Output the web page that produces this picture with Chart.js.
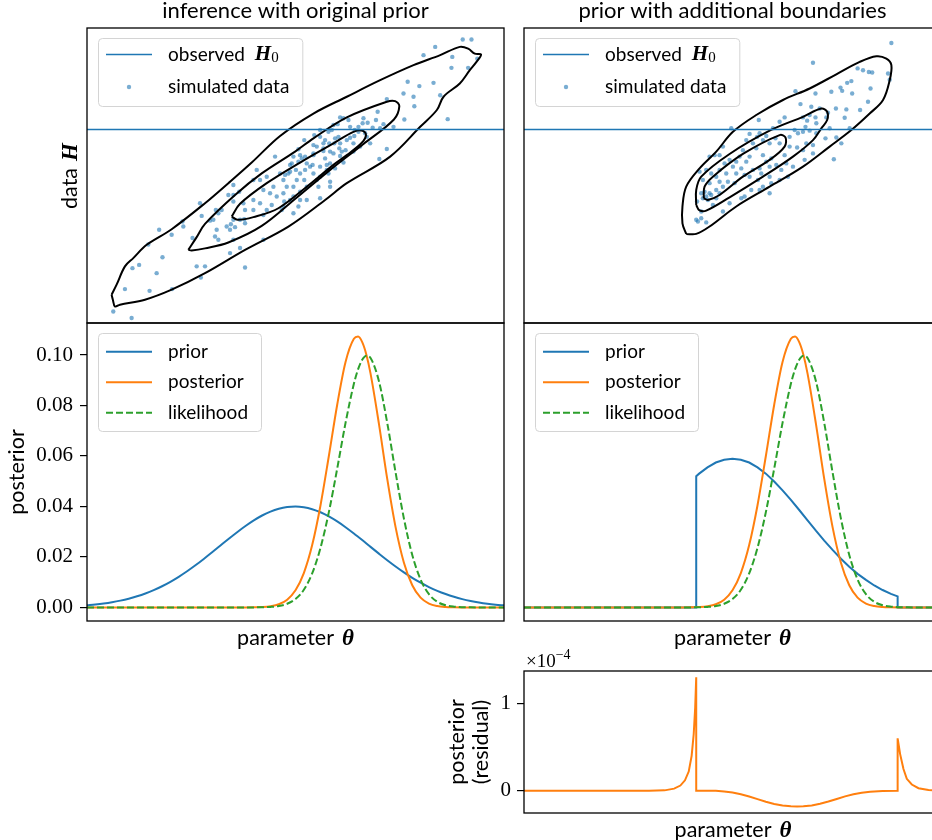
<!DOCTYPE html>
<html>
<head>
<meta charset="utf-8">
<script src="https://cdn.jsdelivr.net/npm/chart.js@4.4.1/dist/chart.umd.min.js"></script>
<style>
  html, body { margin: 0; padding: 0; background: #fff; overflow: hidden; width: 932px; height: 840px; }
  canvas { position: absolute; left: 0; top: 0; }
</style>
</head>
<body>
<canvas id="cTL" width="950" height="840"></canvas>
<canvas id="cTR" width="950" height="840"></canvas>
<canvas id="cML" width="950" height="840"></canvas>
<canvas id="cMR" width="950" height="840"></canvas>
<canvas id="cRes" width="950" height="840"></canvas>
<script>
// parameter grid (θ, arbitrary units across the axes)
const theta = [0,2,4,6,8,10,12,14,16,18,20,22,24,26,28,30,32,34,36,38,
  40,42,44,46,48,50,52,54,56,58,60,62,64,65,66,67,68,
  70,72,74,76,78,80,82,84,86,88,90,92,94,96,98,100];

// original (unbounded) prior
const priorOrig = [0.00087,0.00118,0.00157,0.00207,0.00270,0.00347,0.00441,0.00553,0.00686,0.00840,
  0.01016,0.01214,0.01432,0.01669,0.01922,0.02184,0.02453,0.02721,0.02981,0.03226,
  0.03449,0.03642,0.03798,0.03912,0.03980,0.04000,0.03970,0.03892,0.03770,0.03606,0.03407,0.03179,0.02930,0.02800,0.02668,0.02533,0.02399,
  0.02131,0.01869,0.01620,0.01387,0.01172,0.00979,0.00808,0.00658,0.00530,0.00421,0.00330,0.00256,0.00196,0.00148,0.00111,0.00082];

const posterior = [0,0,0,0,0,0,0,0,0,0,0,0,0,0,0,0,0,0,0,0,
  0.00005,0.00015,0.00046,0.00125,0.00308,0.00681,0.01363,0.0247,0.0405,0.0600,0.0803,0.0972,0.1064,0.1073,0.1051,0.1001,0.0926,
  0.0728,0.0509,0.0318,0.0177,0.00878,0.00388,0.00153,0.00054,0.00017,0.00005,0,0,0,0,0,0];

const likelihood = [0,0,0,0,0,0,0,0,0,0,0,0,0,0,0,0,0,0,0,0,
  0.00002,0.00007,0.00021,0.00057,0.00145,0.00334,0.00702,0.01349,0.02362,0.03774,0.0550,0.0731,0.0886,0.0943,0.0981,0.0997,0.0988,
  0.0897,0.0731,0.0535,0.0352,0.0208,0.01103,0.00525,0.00224,0.00086,0.0003,0.00009,0.00003,0,0,0,0];

// prior with additional boundaries
const thetaBounded = [0,41.3,41.3,42,44,46,48,50,52,54,56,58,60,62,64,66,68,70,72,74,76,78,80,82,84,86,88,89.6,89.6,100];
const priorBounded = [0,0,0.0520,0.0530,0.0555,0.0574,0.0585,0.0589,0.0585,0.0574,0.0555,0.0530,0.0499,0.0464,0.0426,
  0.0386,0.0345,0.0304,0.0265,0.0228,0.0193,0.0161,0.0133,0.0109,0.0087,0.0069,0.0054,0.0044,0,0];

// posterior residual, in units of 1e-4
const thetaRes = [0,30,33.7,36,37.5,38.6,39.5,40.2,40.7,41.05,41.3,41.3,46,48,50,52,54,56,58,60,62,64,65.5,67,69,71,73,75,77,79,81,83,86,
  89.6,89.6,90.2,91.0,91.8,93.0,94.6,97,100];
const residualE4 = [0,0,0.005,0.025,0.06,0.12,0.22,0.40,0.65,0.95,1.30,0,0,-0.008,-0.02,-0.04,-0.065,-0.095,-0.125,-0.15,-0.168,-0.178,-0.18,-0.178,-0.167,-0.148,-0.122,-0.093,-0.064,-0.04,-0.022,-0.01,-0.003,
  0,0.60,0.42,0.25,0.137,0.072,0.03,0.008,0];

const postTicks = [0, 0.02, 0.04, 0.06, 0.08, 0.10];
const resTicks = [0, 1];

// observed data value
const H0_OBS = 65.6;

// simulated (θ, H) pairs
const simOrig = [
[83.5,93.6],[90.1,96.1],[92.2,96.1],[80.7,90.8],[87.6,90.2],[87.4,86.5],[91.4,86.5],[93.6,89.6],
[76.9,81.8],[79.7,80.3],[83.1,81.4],[71.9,75.9],[75.9,77.8],[78.3,76.7],[78.5,73.5],[84.7,77.2],
[86.5,69.1],[76.1,69.0],[71.9,59.0],[70.1,55.6],[70.3,66.0],[68.5,66.2],[66.3,69.4],[66.7,64.3],
[67.9,60.9],[63.9,60.9],[61.5,54.4],[58.3,46.2],[55.9,42.3],[63.1,66.5],[61.5,69.4],[60.7,69.7],
[59.1,67.1],[57.9,64.8],[55.9,63.1],[57.1,62.0],[59.3,60.9],[60.7,60.9],[62.3,62.0],[65.1,64.8],
[62.7,68.8],[55.1,59.8],[54.3,57.5],[58.3,58.1],[59.1,57.5],[57.1,55.8],[52.3,56.4],[51.5,55.8],
[49.5,56.4],[48.7,53.6],[53.5,53.0],[55.9,53.0],[57.9,50.7],[59.5,52.4],[69.3,68.8],[73.5,66.5],
[67.1,63.1],[62.0,58.6],[51.1,50.7],[50.3,48.5],[48.3,50.7],[46.3,50.7],[44.7,46.2],[47.1,48.5],
[47.9,46.2],[49.5,46.2],[51.1,44.5],[45.5,42.9],[47.1,44.0],[48.7,41.7],[43.9,44.0],[42.3,45.1],
[41.5,48.5],[40.7,51.9],[39.9,48.5],[43.1,49.6],[45.1,56.4],[39.9,41.7],[41.5,40.6],[39.9,38.3],
[37.5,40.6],[37.9,38.3],[43.1,38.3],[44.3,40.0],[42.3,36.6],[47.1,39.5],[49.5,37.2],[37.9,33.8],
[36.7,35.0],[34.3,31.6],[35.1,35.0],[33.5,32.7],[31.5,37.2],[32.3,38.3],[31.1,31.6],[33.9,43.4],
[35.1,43.4],[35.1,46.8],[30.3,35.0],[30.7,29.3],[31.5,28.2],[35.1,28.2],[36.7,25.4],[34.3,23.7],
[37.9,18.8],[27.1,40.6],[22.9,34.4],[23.1,32.7],[25.3,28.8],[20.3,29.9],[17.3,31.6],[18.1,22.3],
[10.9,18.6],[12.5,19.7],[16.7,16.9],[26.3,19.2],[28.3,19.2],[27.3,15.4],[15.0,10.9],[9.1,11.5],
[20.4,11.5],[6.3,3.9],[10.7,1.7],[42.3,28.2],[52.7,41.7],[55.1,48.5],[54.3,50.7],[51.1,41.7],
[52.7,54.1],[56.7,59.2],[59.5,62.6],[61.1,58.1],[63.9,58.1],[65.5,59.8],[58.3,54.1],[55.5,46.2],
[14.7,26.6],[27.5,36.3],[29.5,34.7],[30.9,38.3],[34.5,33.5],[35.5,32.5],[37.7,35.2],[46.7,38.3],
[36.5,44.5],[35.1,41.2],[69.7,71.6],[66.1,67.7],[67.3,67.9],[71.1,67.4],[65.1,66.5],[64.2,65.4],
[60.1,67.4],[55.9,65.4],[54.5,63.7],[58.7,65.4],[60.3,63.1],[63.1,62.8],[64.1,63.4],[58.1,60.9],
[56.7,60.9],[54.3,60.3],[52.1,62.0],[50.7,58.9],[56.7,58.3],[60.5,59.2],[60.7,56.6],[54.3,56.9],
[51.1,56.9],[49.1,54.1],[50.7,54.7],[54.1,53.6],[57.5,53.6],[57.5,51.9],[52.3,51.9],[50.1,51.9],
[48.7,51.3],[47.5,50.2],[52.1,48.5],[55.9,49.6],[58.3,47.9],[52.7,46.2],[49.5,42.9],[47.3,41.2],
[50.7,39.5]];

const simBounded = [
[88.1,94.9],[69.3,88.2],[80.0,86.3],[81.3,85.7],[82.7,85.1],[83.5,84.9],[87.3,84.6],[87.7,82.5],
[78.5,82.0],[77.5,81.4],[75.9,79.8],[76.3,78.7],[78.7,77.8],[83.1,79.5],[73.7,78.4],[69.9,77.8],
[65.1,78.6],[82.5,75.0],[80.6,72.2],[77.3,72.4],[74.8,72.7],[66.3,74.2],[76.9,69.6],[72.5,69.7],
[69.9,69.7],[68.5,70.5],[67.9,68.6],[70.1,67.7],[67.5,66.5],[62.5,69.7],[61.3,68.2],[56.3,68.8],
[49.7,66.0],[54.1,64.1],[55.9,63.1],[58.1,63.4],[57.3,62.0],[58.9,60.9],[60.3,62.6],[61.3,60.9],
[63.7,63.1],[64.9,65.4],[65.7,64.3],[66.9,64.8],[68.5,65.2],[70.1,64.3],[73.3,66.0],[72.3,62.6],
[74.9,62.9],[76.1,60.9],[74.3,55.5],[69.3,57.5],[69.3,60.3],[67.7,60.9],[66.9,58.6],[65.5,59.5],
[67.3,55.3],[63.7,59.8],[62.5,56.9],[62.9,54.1],[61.7,51.9],[60.5,53.6],[59.3,55.8],[58.9,53.0],
[58.1,54.7],[57.3,56.9],[55.7,59.2],[54.9,60.9],[54.1,56.4],[53.3,54.7],[52.5,58.6],[51.7,56.4],
[50.9,54.7],[52.1,52.4],[54.9,51.9],[56.5,52.4],[56.9,50.7],[58.9,49.6],[59.3,47.4],[57.3,46.2],
[56.1,48.5],[54.1,49.6],[52.9,50.2],[50.9,50.7],[50.1,53.0],[49.3,55.3],[48.1,54.1],[47.7,59.8],
[45.7,56.9],[46.9,51.9],[48.5,50.7],[46.1,49.6],[44.9,50.7],[43.7,51.9],[42.1,51.3],[42.9,48.5],
[44.5,47.4],[46.9,47.9],[48.9,47.9],[50.5,47.4],[47.7,46.2],[46.1,45.1],[44.5,44.0],[43.3,44.5],
[42.5,44.0],[43.7,42.9],[44.9,43.4],[42.9,42.3],[44.1,41.7],[46.1,42.3],[46.9,44.0],[52.1,42.3],
[49.3,40.6],[47.7,37.8],[45.3,40.0],[42.5,37.8],[41.5,41.2],[41.3,35.0],[42.5,35.5],[43.7,34.1],
[41.7,34.4],[56.5,45.1],[54.5,45.1],[52.9,42.9],[58.9,44.0],[61.3,48.5],[63.3,49.6],[64.5,53.0],
[46.9,56.9],[44.5,56.4],[53.3,62.0],[56.5,64.3],[59.7,66.0],[66.9,69.7],[68.9,73.3],[70.9,72.7],
[72.9,71.3],[78.1,66.0]];

// density contours of the simulated pairs (outer, middle, inner)
const outerOrig = [[5.9,9.6],[7.1,13.0],[9.1,19.2],[11.1,22.0],[14.3,26.5],[20.3,31.8],[28.3,40.6],[33.9,47.4],
  [39.5,54.4],[46.3,63.4],[54.3,71.0],[62.3,76.7],[70.3,82.3],[78.3,87.4],[84.7,90.8],[89.4,93.6],[91.4,93.0],
  [93.0,91.3],[94.5,91.0],[93.4,88.5],[91.8,85.7],[89.4,81.2],[85.5,76.7],[83.9,72.2],[79.9,66.5],[72.7,56.4],
  [62.3,47.4],[57.1,41.7],[48.3,32.7],[37.9,24.8],[28.3,16.9],[20.3,11.3],[13.9,7.9],[7.9,6.2],[6.7,5.6],[6.2,7.9],[5.9,9.6]];
const midOrig = [[24.3,24.8],[26.3,29.1],[28.3,33.6],[35.5,43.4],[41.9,50.7],[49.9,58.1],[54.3,62.6],[62.3,69.7],
  [71.9,75.0],[73.9,75.2],[74.9,73.5],[73.6,69.0],[66.3,60.7],[58.3,51.9],[50.1,42.3],[41.9,32.9],[33.9,27.3],
  [28.3,25.3],[25.1,24.6],[24.3,24.8]];
const innerOrig = [[34.7,36.1],[36.7,40.4],[43.1,47.4],[51.1,54.4],[59.1,60.9],[63.9,64.8],[66.1,65.2],[66.9,63.7],
  [65.9,61.1],[62.3,56.9],[59.1,53.6],[52.7,46.2],[45.9,38.9],[39.9,35.9],[36.1,35.0],[34.7,36.1]];

const outerBounded = [[38.9,30.2],[38.0,33.8],[38.0,39.5],[38.9,46.2],[42.1,52.4],[46.1,58.1],[50.1,64.8],[55.7,70.5],
  [62.1,75.6],[68.5,79.5],[74.9,84.3],[80.5,88.5],[84.5,90.4],[86.9,89.6],[88.1,87.4],[87.7,82.3],[86.1,75.6],
  [82.9,71.0],[78.5,65.4],[73.3,59.8],[66.9,53.0],[58.9,46.2],[50.9,39.5],[44.5,32.7],[41.3,30.2],[38.9,30.2]];
const midBounded = [[41.3,40.0],[41.3,45.1],[42.5,49.6],[49.3,57.3],[58.9,65.2],[66.9,69.9],[71.3,72.7],[72.7,71.6],
  [72.7,68.8],[71.3,66.0],[69.3,62.0],[64.5,56.4],[57.3,49.6],[49.3,42.6],[43.7,38.1],[42.0,38.3],[41.3,40.0]];
const innerBounded = [[43.1,42.3],[43.3,46.2],[45.3,49.6],[52.5,57.3],[61.3,63.7],[62.7,62.9],[62.5,59.8],[58.9,55.3],
  [52.5,49.6],[46.9,43.4],[44.1,41.7],[43.1,42.3]];

const BLUE = '#1f77b4', ORANGE = '#ff7f0e', GREEN = '#2ca02c';
const SANS = '"Lato", "DejaVu Sans", sans-serif';
const SERIF = '"Liberation Serif", "DejaVu Serif", serif';
const F_TEXT = '19px ' + SANS;          // legend
const F_LABEL = '21.5px ' + SANS;       // axis labels
const F_TITLE = '22px ' + SANS;         // panel titles
const F_MATH = 'bold italic 23px ' + SERIF;
const F_MATH_S = 'bold italic 21px ' + SERIF;
const F_SUB = '15px ' + SERIF;

const xy = (xs, ys) => xs.map((x, i) => ({ x: x, y: ys[i] }));
const pts = arr => arr.map(p => ({ x: p[0], y: p[1] }));

// draw text made of several font pieces
function partsWidth(ctx, parts) {
  let w = 0;
  parts.forEach(p => { ctx.font = p.font; w += ctx.measureText(p.text).width + (p.gap || 0); });
  return w;
}
function drawParts(ctx, x, y, parts, align, rotate, baseline) {
  ctx.save();
  ctx.translate(x, y);
  if (rotate) ctx.rotate(rotate);
  ctx.fillStyle = '#000';
  ctx.textBaseline = baseline || 'alphabetic';
  const w = partsWidth(ctx, parts);
  let cx = align === 'center' ? -w / 2 : 0;
  parts.forEach(p => {
    ctx.font = p.font;
    cx += p.gap || 0;
    ctx.fillText(p.text, cx, p.dy || 0);
    cx += ctx.measureText(p.text).width;
  });
  ctx.restore();
}

// frame, legend box and labels
const decor = {
  id: 'decor',
  afterDraw(chart, args, opts) {
    const ctx = chart.ctx, a = chart.chartArea;
    ctx.save();
    ctx.strokeStyle = '#000';
    ctx.lineWidth = 1.3;
    ctx.strokeRect(a.left, a.top, a.right - a.left, a.bottom - a.top);
    ctx.restore();

    const lg = opts.legend;
    if (lg) {
      const bx = a.left + 11, by = a.top + 10;
      let maxW = 0;
      lg.rows.forEach(r => { maxW = Math.max(maxW, partsWidth(ctx, r.parts)); });
      const bw = 70 + maxW + 13;
      ctx.save();
      ctx.beginPath();
      ctx.roundRect(bx + 0.5, by + 0.5, bw, lg.h, 4);
      ctx.fillStyle = 'rgba(255,255,255,0.85)';
      ctx.fill();
      ctx.strokeStyle = '#d4d4d4';
      ctx.lineWidth = 1;
      ctx.stroke();
      lg.rows.forEach(r => {
        const ds = chart.data.datasets[r.ds];
        const ry = a.top + r.dy;
        if (ds.showLine) {
          ctx.beginPath();
          ctx.strokeStyle = ds.borderColor;
          ctx.lineWidth = ds.borderWidth;
          ctx.setLineDash(ds.borderDash || []);
          ctx.moveTo(bx + 8, ry);
          ctx.lineTo(bx + 54, ry);
          ctx.stroke();
          ctx.setLineDash([]);
        } else {
          ctx.beginPath();
          ctx.fillStyle = ds.backgroundColor;
          ctx.arc(bx + 31, ry, ds.pointRadius, 0, Math.PI * 2);
          ctx.fill();
        }
        drawParts(ctx, bx + 70, ry, r.parts, 'left', 0, 'middle');
      });
      ctx.restore();
    }
    (opts.texts || []).forEach(t => drawParts(ctx, t.x, t.y, t.parts, t.align || 'center', t.rot || 0));
  }
};

const thetaLabel = [{ text: 'parameter', font: F_LABEL }, { text: '\u03b8', font: F_MATH, gap: 8 }];

function baseOptions(area, decorOpts) {
  return {
    responsive: false, animation: false, events: [],
    layout: { padding: { left: area.left, top: area.top, right: 950 - area.right, bottom: 840 - area.bottom } },
    plugins: { legend: { display: false }, tooltip: { enabled: false }, decor: decorOpts }
  };
}

// top row: simulated data with contours
function dataPanel(id, sim, contours, area, title, withYLabel) {
  const texts = [{ x: (area.left + area.right) / 2, y: 18, parts: [{ text: title, font: F_TITLE }] }];
  if (withYLabel) texts.push({ x: 77, y: 176, rot: -Math.PI / 2,
    parts: [{ text: 'data', font: F_LABEL }, { text: 'H', font: F_MATH, gap: 7 }] });
  const opts = baseOptions(area, {
    legend: { h: 68, rows: [
      { ds: 0, dy: 26.5, parts: [{ text: 'observed', font: F_TEXT }, { text: 'H', font: F_MATH_S, gap: 10 }, { text: '0', font: F_SUB, dy: 4 }] },
      { ds: 1, dy: 59, parts: [{ text: 'simulated data', font: F_TEXT }] }] },
    texts: texts
  });
  opts.scales = { x: { type: 'linear', min: 0, max: 100, display: false }, y: { min: 0, max: 100, display: false } };
  const datasets = [
    { label: 'observed H0', data: [{ x: 0, y: H0_OBS }, { x: 100, y: H0_OBS }], showLine: true,
      borderColor: BLUE, borderWidth: 1.6, pointRadius: 0, order: 0 },
    { label: 'simulated data', data: pts(sim), pointRadius: 2.2, backgroundColor: 'rgba(31,119,180,0.6)',
      pointBorderWidth: 0, order: 2 }
  ];
  contours.forEach(c => datasets.push({ label: 'contour', data: pts(c), showLine: true, borderColor: '#000',
    borderWidth: 2, pointRadius: 0, tension: 0.35, order: 1 }));
  new Chart(document.getElementById(id), { type: 'scatter', data: { datasets: datasets }, options: opts, plugins: [decor] });
}

// middle row: prior, posterior and likelihood
function densityPanel(id, priorXs, priorYs, area, withYAxis) {
  const texts = [{ x: (area.left + area.right) / 2, y: 645, parts: thetaLabel }];
  if (withYAxis) texts.push({ x: 24, y: 472, rot: -Math.PI / 2, parts: [{ text: 'posterior', font: F_LABEL }] });
  const opts = baseOptions(withYAxis ? { left: 0, top: area.top, right: area.right, bottom: area.bottom } : area, {
    legend: { h: 98, rows: [
      { ds: 0, dy: 28.7, parts: [{ text: 'prior', font: F_TEXT }] },
      { ds: 1, dy: 59.3, parts: [{ text: 'posterior', font: F_TEXT }] },
      { ds: 2, dy: 89.7, parts: [{ text: 'likelihood', font: F_TEXT }] }] },
    texts: texts
  });
  const yScale = { min: -0.00537, max: 0.11267, display: false };
  if (withYAxis) Object.assign(yScale, {
    display: true,
    afterFit: s => { s.width = area.left; },
    afterBuildTicks: s => { s.ticks = postTicks.map(v => ({ value: v })); },
    grid: { display: true, drawOnChartArea: false, drawTicks: true, tickLength: 7, color: '#000', lineWidth: 1.2 },
    border: { display: false },
    ticks: { padding: 7, color: '#000', font: { family: '"Liberation Serif"', size: 21 }, callback: v => v.toFixed(2) }
  });
  opts.scales = { x: { type: 'linear', min: 0, max: 100, display: false }, y: yScale };
  const line = { showLine: true, pointRadius: 0, borderWidth: 2 };
  const datasets = [
    Object.assign({ label: 'prior', data: xy(priorXs, priorYs), borderColor: BLUE, order: 3,
      cubicInterpolationMode: priorXs === theta ? 'monotone' : 'default', tension: 0 }, line),
    Object.assign({ label: 'posterior', data: xy(theta, posterior), borderColor: ORANGE, order: 2,
      cubicInterpolationMode: 'monotone' }, line),
    Object.assign({ label: 'likelihood', data: xy(theta, likelihood), borderColor: GREEN, borderDash: [7, 3], order: 1,
      cubicInterpolationMode: 'monotone' }, line)
  ];
  new Chart(document.getElementById(id), { type: 'scatter', data: { datasets: datasets }, options: opts, plugins: [decor] });
}

dataPanel('cTL', simOrig, [outerOrig, midOrig, innerOrig], { left: 87, top: 28, right: 504, bottom: 323 },
  'inference with original prior', true);
dataPanel('cTR', simBounded, [outerBounded, midBounded, innerBounded], { left: 524, top: 28, right: 941, bottom: 323 },
  'prior with additional boundaries', false);
densityPanel('cML', theta, priorOrig, { left: 87, top: 323, right: 504, bottom: 621 }, true);
densityPanel('cMR', thetaBounded, priorBounded, { left: 524, top: 323, right: 941, bottom: 621 }, false);

// bottom: posterior residual
(function () {
  const area = { left: 524, top: 671, right: 941, bottom: 813 };
  const opts = baseOptions({ left: 0, top: area.top, right: area.right, bottom: area.bottom }, {
    texts: [
      { x: 733, y: 837, parts: thetaLabel },
      { x: 464, y: 742, rot: -Math.PI / 2, parts: [{ text: 'posterior', font: F_LABEL }] },
      { x: 488, y: 742, rot: -Math.PI / 2, parts: [{ text: '(residual)', font: F_LABEL }] },
      { x: 526, y: 667, align: 'left', parts: [{ text: '\u00d710', font: '19px ' + SERIF }, { text: '\u22124', font: '14px ' + SERIF, dy: -8 }] }
    ]
  });
  opts.scales = {
    x: { type: 'linear', min: 0, max: 100, display: false },
    y: { min: -0.254, max: 1.371,
      afterFit: s => { s.width = area.left; },
      afterBuildTicks: s => { s.ticks = resTicks.map(v => ({ value: v })); },
      grid: { display: true, drawOnChartArea: false, drawTicks: true, tickLength: 7, color: '#000', lineWidth: 1.2 },
      border: { display: false },
      ticks: { padding: 6, color: '#000', font: { family: '"Liberation Serif"', size: 21 }, callback: v => String(v) } }
  };
  new Chart(document.getElementById('cRes'), {
    type: 'scatter',
    data: { datasets: [{ label: 'posterior residual', data: xy(thetaRes, residualE4), showLine: true, pointRadius: 0,
      borderColor: ORANGE, borderWidth: 2, tension: 0 }] },
    options: opts, plugins: [decor]
  });
})();
</script>
</body>
</html>
